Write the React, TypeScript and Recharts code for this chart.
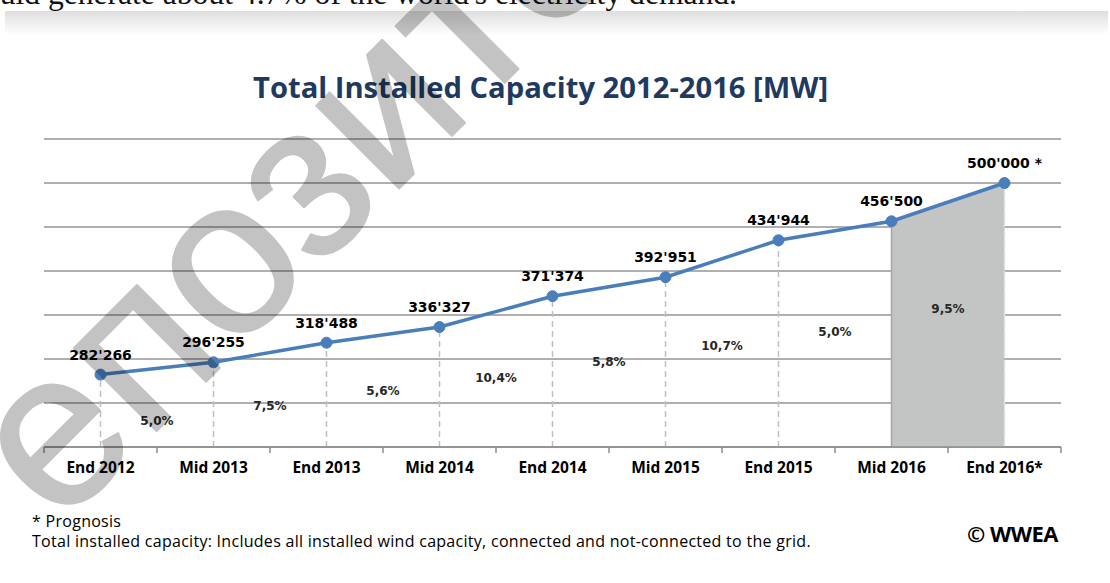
import React from "react";
import {
  ComposedChart, Line, Area, Scatter, XAxis, YAxis, CartesianGrid, ReferenceLine, LabelList,
} from "recharts";

const categories = [
  "End 2012", "Mid 2013", "End 2013", "Mid 2014", "End 2014",
  "Mid 2015", "End 2015", "Mid 2016", "End 2016*",
];
const capacity = [282266, 296255, 318488, 336327, 371374, 392951, 434944, 456500, 500000];
const capacityLabels = [
  "282'266", "296'255", "318'488", "336'327", "371'374",
  "392'951", "434'944", "456'500", "500'000 *",
];
// growth between two neighbouring points, and the level (MW) where the label sits
const growthLabels = ["5,0%", "7,5%", "5,6%", "10,4%", "5,8%", "10,7%", "5,0%", "9,5%"];
const growthLabelLevel = [229500, 247000, 263500, 279000, 297000, 315000, 330500, 357500];
const yTicks = [200000, 250000, 300000, 350000, 400000, 450000, 500000, 550000];
const prognosisFrom = 7; // shaded from Mid 2016 on

const data = categories.map((name, i) => ({
  x: i,
  name,
  cap: capacity[i],
  label: capacityLabels[i],
  shade: i >= prognosisFrom ? capacity[i] : null,
}));
const growthData = growthLabels.map((label, i) => ({ x: i + 0.5, level: growthLabelLevel[i], label }));
const boundaryTicks = [...categories.map((_, i) => i - 0.5), categories.length - 0.5];
const centerTicks = categories.map((_, i) => i);
const xDomain = [-0.5, categories.length - 0.5];

const wmSize = 222;
const wmX = 305;
const wmY = 201;

export default function App() {
  return (
    <div style={{ position: "relative", width: 1110, height: 583, overflow: "hidden", background: "#fff" }}>
      <style>{`body{margin:0}`}</style>

      <div style={{
        position: "absolute", right: 373, top: -22, whiteSpace: "nowrap",
        fontFamily: "'Liberation Serif', serif", fontSize: 31.6, lineHeight: "31px", color: "#111",
      }}>
        could generate about 4.7% of the world's electricity demand.
      </div>
      <div style={{
        position: "absolute", left: 5, top: 11, width: 1103, height: 24,
        background: "linear-gradient(to bottom, rgba(0,0,0,0.13), rgba(0,0,0,0))",
      }} />

      <div style={{
        position: "absolute", left: 253, top: 70, whiteSpace: "nowrap",
        fontFamily: "'Open Sans', sans-serif", fontWeight: 700, fontSize: 29.2, lineHeight: "34px", color: "#1f3a60",
      }}>
        Total Installed Capacity 2012-2016 [MW]
      </div>

      <div style={{ position: "absolute", left: 0, top: 0 }}>
        <ComposedChart width={1110} height={583} data={data} margin={{ top: 139, right: 49, bottom: 98, left: 44 }}>
          <CartesianGrid xAxisId="marks" vertical={false} stroke="#959595" strokeWidth={1.5} />
          <YAxis hide type="number" domain={[200000, 550000]} ticks={yTicks} />
          <XAxis
            xAxisId="marks" dataKey="x" type="number" domain={xDomain} ticks={boundaryTicks} interval={0}
            tickFormatter={() => ""} tickSize={6} stroke="#8c8c8c" strokeWidth={1.5} height={8}
          />
          <XAxis
            xAxisId="names" dataKey="x" type="number" domain={xDomain} ticks={centerTicks} interval={0}
            tickFormatter={(v) => categories[v]} axisLine={false} tickLine={false} tickSize={0} tickMargin={7} height={30}
            tick={{ fill: "#000", fontFamily: "Open Sans", fontWeight: 700, fontSize: 15.5 }}
          />
          <Area
            xAxisId="marks" type="linear" dataKey="shade" fill="#c3c4c4" fillOpacity={1} stroke="none"
            isAnimationActive={false} activeDot={false}
          />
          {data.map((d) => (
            <ReferenceLine
              key={d.x}
              xAxisId="marks"
              segment={[{ x: d.x, y: 200000 }, { x: d.x, y: d.cap }]}
              stroke={d.x === prognosisFrom ? "#a6a6a6" : d.x > prognosisFrom ? "#e2e2e2" : "#c0c0c0"}
              strokeDasharray={d.x === prognosisFrom ? undefined : "6 4"}
              strokeWidth={1.5}
            />
          ))}
          <Line
            xAxisId="marks" type="linear" dataKey="cap" stroke="#4a7ebb" strokeWidth={3.5}
            dot={{ r: 5.5, fill: "#4a7ebb", stroke: "#4a7ebb", strokeWidth: 1 }} activeDot={false}
            isAnimationActive={false}
          >
            <LabelList dataKey="label" position="top" offset={15} fill="#000"
              fontFamily="DejaVu Sans" fontWeight="bold" fontSize={14} />
          </Line>
          <Scatter xAxisId="marks" data={growthData} dataKey="level" shape={() => <g />} isAnimationActive={false}>
            <LabelList dataKey="label" position="center" fill="#262626"
              fontFamily="DejaVu Sans" fontWeight="bold" fontSize={12} />
          </Scatter>
        </ComposedChart>
      </div>

      <div style={{
        position: "absolute", left: 32, top: 511, whiteSpace: "nowrap",
        fontFamily: "'Open Sans', sans-serif", fontSize: 16, lineHeight: "20px", color: "#000", letterSpacing: 0.28,
      }}>
        <div>* Prognosis</div>
        <div>Total installed capacity: Includes all installed wind capacity, connected and not-connected to the grid.</div>
      </div>
      <div style={{
        position: "absolute", right: 52, top: 519, whiteSpace: "nowrap",
        fontFamily: "'Open Sans', sans-serif", fontWeight: 700, fontSize: 22, lineHeight: "28px", color: "#000",
        letterSpacing: -0.5,
      }}>
        © WWEA
      </div>

      <svg width={1110} height={583} style={{ position: "absolute", left: 0, top: 0, pointerEvents: "none" }}>
        <g opacity={0.23}>
          <text
            x={wmX} y={wmY + 0.26 * wmSize} transform={`rotate(-45 ${wmX} ${wmY})`} textAnchor="middle"
            fontFamily="'Liberation Sans', Arial, sans-serif" fontSize={wmSize} fill="#000"
            stroke="#000" strokeWidth={2} strokeLinejoin="round"
          >
            епозито
          </text>
        </g>
      </svg>
    </div>
  );
}
